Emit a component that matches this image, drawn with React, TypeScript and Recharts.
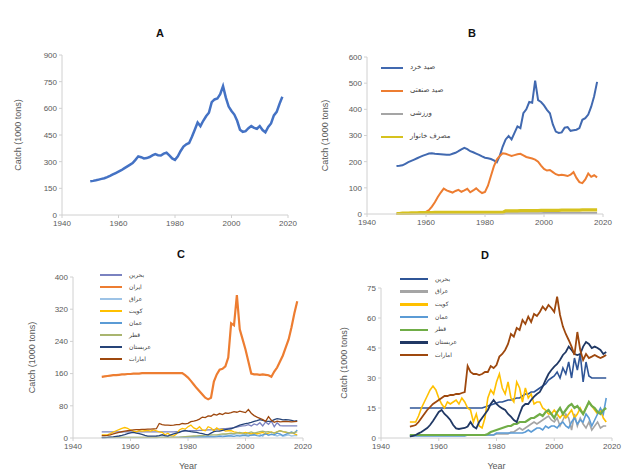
import React from 'react';
import { LineChart, Line, XAxis, YAxis, Label } from 'recharts';

const years = [
  1950, 1951, 1952, 1953, 1954, 1955, 1956, 1957, 1958, 1959,
  1960, 1961, 1962, 1963, 1964, 1965, 1966, 1967, 1968, 1969,
  1970, 1971, 1972, 1973, 1974, 1975, 1976, 1977, 1978, 1979,
  1980, 1981, 1982, 1983, 1984, 1985, 1986, 1987, 1988, 1989,
  1990, 1991, 1992, 1993, 1994, 1995, 1996, 1997, 1998, 1999,
  2000, 2001, 2002, 2003, 2004, 2005, 2006, 2007, 2008, 2009,
  2010, 2011, 2012, 2013, 2014, 2015, 2016, 2017, 2018,
];

const xTicks = [1940, 1960, 1980, 2000, 2020];

// Panel A: total catch
const totalCatch = [
  190, 192, 195, 199, 203, 207, 213, 220, 228, 236,
  244, 252, 262, 272, 282, 292, 310, 330, 325, 318,
  320, 326, 335, 342, 336, 335, 345, 350, 335, 318,
  310, 330, 360, 385, 398, 405, 440, 480, 520, 500,
  530, 555, 575, 635, 650, 655, 680, 725, 660, 610,
  585, 565, 530, 480, 468, 472, 488, 500, 490, 485,
  500, 478, 465, 495, 515, 560, 580, 625, 665,
];

// Panel B: by sector
const artisanal = [
  183, 184, 186, 192, 198, 203, 208, 213, 218, 223,
  227, 231, 232, 230, 229, 228, 227, 226, 226, 230,
  234, 240, 247, 253, 248, 240, 236, 231, 226, 220,
  215, 213, 210, 205, 198, 222, 258, 285, 298, 285,
  310, 335, 328, 385, 400, 428, 425, 510, 435, 428,
  415, 398, 385, 342, 315, 310, 312, 330, 332, 318,
  320, 322, 328, 360, 366, 380, 410, 450, 505,
];
const industrial = [
  0, 0, 0, 1, 1, 2, 3, 4, 5, 6,
  8, 15, 28, 45, 65, 82, 97, 90, 86, 82,
  88, 92, 85, 90, 96, 83, 90, 98, 88, 80,
  84, 108, 145, 182, 208, 222, 232, 230, 226, 222,
  225, 228, 230, 224, 218, 215, 212, 208, 200, 185,
  172, 166, 168, 160, 152, 148, 150, 148, 145, 150,
  160, 138, 122, 118, 132, 155, 142, 148, 140,
];
const recreational = [
  1, 1, 1, 1, 1, 1, 1, 1, 1, 1,
  1, 1, 1, 1, 1, 1, 1, 1, 1, 1,
  1, 1, 1, 1, 1, 1, 1, 1, 1, 1,
  1, 1, 1, 1, 1, 1, 1, 3, 3, 3,
  3, 3, 3, 3, 3, 3, 3, 3, 3, 3,
  4, 4, 4, 4, 4, 4, 4, 4, 4, 4,
  4, 4, 4, 4, 4, 4, 4, 4, 4,
];
const subsistence = [
  2, 2, 3, 3, 3, 4, 4, 4, 5, 5,
  5, 5, 5, 6, 6, 6, 6, 6, 6, 6,
  6, 6, 6, 6, 6, 6, 6, 6, 6, 6,
  6, 6, 6, 6, 6, 6, 6, 12, 12, 12,
  12, 12, 13, 13, 13, 13, 13, 13, 13, 14,
  14, 14, 14, 14, 14, 14, 15, 15, 15, 15,
  15, 15, 15, 16, 16, 16, 16, 16, 16,
];

// Panels C & D: by country
const bahrain = [
  15, 15, 15, 15, 15, 15, 15, 15, 15, 15,
  15, 15, 15, 15, 15, 15, 15, 15, 15, 15,
  15, 15, 15, 15, 15, 15, 15.5, 16, 16.5, 17,
  17.5, 18, 18, 18.5, 19, 19, 19.5, 20, 20, 21,
  22, 22, 23, 23, 24, 25, 26, 27, 29, 30,
  31, 33, 30, 35, 32, 38, 30, 40, 34, 42,
  28, 38, 31, 30, 30, 30, 30, 30, 30,
];
const iran = [
  152, 153, 154, 155, 156, 156, 157, 158, 158, 159,
  159, 160, 160, 160, 161, 161, 161, 161, 161, 161,
  161, 161, 161, 161, 161, 161, 161, 161, 161, 156,
  150, 142, 133, 124, 116, 108, 100, 96, 100, 140,
  158, 170, 172, 178, 200, 285, 280, 355, 270, 245,
  220, 190, 160, 158, 158, 157, 158, 157, 156, 152,
  165, 175, 190, 205, 225, 245, 275, 310, 340,
];
const iraq = [
  1.5, 1.5, 1.5, 1.5, 1.5, 1.5, 1.5, 1.5, 1.5, 1.5,
  1.5, 1.5, 1.5, 1.5, 1.5, 1.5, 1.5, 1.5, 1.5, 1.5,
  1.5, 1.5, 1.5, 1.5, 1.5, 1.5, 1.5, 1.5, 1.5, 1.5,
  2, 2, 2, 2, 2, 3, 3, 4, 5, 4,
  5, 6, 7, 8, 7, 8, 9, 10, 11, 9,
  8, 10, 6, 9, 12, 10, 4, 12, 6, 10,
  7, 5, 8, 4, 6, 8, 5, 6, 6,
];
const kuwait = [
  8, 8, 8, 11, 15, 18, 21, 24, 26, 24,
  20, 17, 15, 18, 17, 18, 19, 17, 20, 18,
  15, 14, 8, 12, 6, 5, 10, 20, 24, 22,
  28, 32, 25, 22, 28, 20, 18, 28, 25, 18,
  25, 20, 22, 17, 18, 18, 15, 14, 12, 12,
  14, 12, 10, 12, 10, 12, 14, 10, 12, 15,
  12, 15, 18, 16, 14, 12, 14, 10, 8,
];
const oman = [
  1, 1, 1, 1, 1, 1, 1, 1, 1, 1,
  1, 1, 1, 1, 1, 1, 1, 1, 1, 1,
  1.5, 1.5, 1.5, 1.5, 1.5, 1.5, 1.5, 1.5, 1.5, 1.5,
  2.5, 2.5, 2.5, 2.5, 2.5, 2.5, 2.5, 2.5, 2.5, 2.5,
  3, 4, 3, 4, 5, 5, 4, 6, 5, 6,
  6, 5, 7, 8, 6, 5, 8, 10, 7, 9,
  8, 12, 10, 6, 9, 12, 15, 12, 20,
];
const qatar = [
  1.5, 1.5, 1.5, 1.5, 1.5, 1.5, 1.5, 1.5, 1.5, 1.5,
  1.5, 1.5, 1.5, 1.5, 1.5, 1.5, 1.5, 1.5, 1.5, 1.5,
  1.5, 1.5, 1.5, 1.5, 1.5, 1.5, 1.5, 2, 3, 3.5,
  4, 4.5, 5, 5.5, 6, 6, 7, 7, 8, 8,
  8, 9, 10, 10, 11, 12, 11, 13, 14, 12,
  10, 13, 15, 12, 14, 16, 17, 15, 16, 14,
  12, 15, 18, 16, 15, 13, 12, 14, 15,
];
const saudi = [
  0.7, 1, 1.5, 2.3, 3, 4, 5, 6.5, 8.5, 10.7,
  13, 14, 12, 10.7, 9, 6.5, 4.8, 4.5, 4.8, 5,
  5.7, 8, 5.7, 4.8, 8, 10, 12, 14, 17, 19,
  17, 15.7, 14.8, 14, 12, 10.7, 9, 8, 12, 15.7,
  17, 17, 19, 20.7, 22, 23, 25.7, 29, 32, 34,
  35.7, 37, 39, 41.5, 43, 45.7, 44, 42, 41.5, 42,
  45.7, 48, 47, 45, 45.7, 45, 44, 42, 43,
];
const uae = [
  5.7, 6, 6.5, 8, 10, 12, 14, 15.5, 17, 18,
  19, 20, 21, 21, 21.5, 21.5, 22, 22, 22.5, 23,
  36, 33, 32, 32, 31.5, 32, 33, 33, 36, 35,
  36.5, 40.7, 42, 44, 47, 52, 50.7, 55, 54, 59,
  57, 60.7, 58, 62, 61, 63, 65.7, 64, 66.5, 65,
  63, 70.7, 61.5, 55.7, 52, 49, 45.7, 41.5, 53, 44,
  39, 42, 40, 40.7, 41.5, 40.7, 40, 40.7, 41.5,
];

const sectorNames = ['صید خرد', 'صید صنعتی', 'ورزشی', 'مصرف خانوار'];
const countryNamesC = ['بحرین', 'ایران', 'عراق', 'کویت', 'عمان', 'قطر', 'عربستان', 'امارات'];
const countryNamesD = ['بحرین', 'عراق', 'کویت', 'عمان', 'قطر', 'عربستان', 'امارات'];

const data = years.map((year, i) => ({
  year,
  total: totalCatch[i],
  artisanal: artisanal[i],
  industrial: industrial[i],
  recreational: recreational[i],
  subsistence: subsistence[i],
  bahrain: bahrain[i],
  iran: iran[i],
  iraq: iraq[i],
  kuwait: kuwait[i],
  oman: oman[i],
  qatar: qatar[i],
  saudi: saudi[i],
  uae: uae[i],
}));

type Series = { key: string; name: string; color: string; width: number };

const seriesA: Series[] = [{ key: 'total', name: 'total', color: '#4472c4', width: 2.5 }];
const seriesB: Series[] = [
  { key: 'artisanal', name: sectorNames[0], color: '#4169b0', width: 2 },
  { key: 'industrial', name: sectorNames[1], color: '#ed7d31', width: 2 },
  { key: 'recreational', name: sectorNames[2], color: '#a5a5a5', width: 2 },
  { key: 'subsistence', name: sectorNames[3], color: '#d6c21e', width: 3.2 },
];
const seriesC: Series[] = [
  { key: 'bahrain', name: countryNamesC[0], color: '#7a82c0', width: 1.3 },
  { key: 'iran', name: countryNamesC[1], color: '#ed7d31', width: 2.2 },
  { key: 'iraq', name: countryNamesC[2], color: '#9dc3e6', width: 1.3 },
  { key: 'kuwait', name: countryNamesC[3], color: '#ffc000', width: 1.3 },
  { key: 'oman', name: countryNamesC[4], color: '#5b9bd5', width: 1.3 },
  { key: 'qatar', name: countryNamesC[5], color: '#a9b56f', width: 1.3 },
  { key: 'saudi', name: countryNamesC[6], color: '#264478', width: 1.3 },
  { key: 'uae', name: countryNamesC[7], color: '#9e480e', width: 1.3 },
];
const seriesD: Series[] = [
  { key: 'bahrain', name: countryNamesD[0], color: '#2f5597', width: 1.6 },
  { key: 'iraq', name: countryNamesD[1], color: '#a5a5a5', width: 1.6 },
  { key: 'kuwait', name: countryNamesD[2], color: '#ffc000', width: 1.6 },
  { key: 'oman', name: countryNamesD[3], color: '#5b9bd5', width: 1.6 },
  { key: 'qatar', name: countryNamesD[4], color: '#70ad47', width: 2.2 },
  { key: 'saudi', name: countryNamesD[5], color: '#203864', width: 1.8 },
  { key: 'uae', name: countryNamesD[6], color: '#9e480e', width: 1.8 },
];

const tickStyle = { fontSize: 8, fill: '#595959', fontFamily: 'Liberation Sans, Arial, sans-serif' };
const axisColor = '#d0d0d0';

type PanelProps = {
  left: number; top: number; width: number; height: number;
  margin: { top: number; right: number; bottom: number; left: number };
  yWidth: number; yLabelOffset: number; xHeight: number;
  yDomain: [number, number]; yTicks: number[];
  series: Series[];
  showYear?: boolean;
};

function Panel(p: PanelProps) {
  return (
    <div style={{ position: 'absolute', left: p.left, top: p.top }}>
      <LineChart width={p.width} height={p.height} data={data} margin={p.margin}>
        <XAxis
          dataKey="year" type="number" domain={[1940, 2020]} ticks={xTicks}
          tick={tickStyle} stroke={axisColor} tickSize={3} height={p.xHeight}
          interval={0} allowDataOverflow
        >
          {p.showYear ? (
            <Label value="Year" position="insideBottom" offset={4}
              style={{ fontSize: 9, fill: '#595959', fontFamily: 'Liberation Sans, Arial, sans-serif' }} />
          ) : null}
        </XAxis>
        <YAxis
          type="number" domain={p.yDomain} ticks={p.yTicks} interval={0}
          tick={tickStyle} stroke={axisColor} tickSize={3} width={p.yWidth}
        >
          <Label value="Catch (1000 tons)" angle={-90} position="insideLeft" offset={p.yLabelOffset}
            style={{ textAnchor: 'middle', fontSize: 9, fill: '#595959', fontFamily: 'Liberation Sans, Arial, sans-serif' }} />
        </YAxis>
        {p.series.map((s) => (
          <Line key={s.key} dataKey={s.key} name={s.name} type="linear" stroke={s.color}
            strokeWidth={s.width} dot={false} isAnimationActive={false} />
        ))}
      </LineChart>
    </div>
  );
}

function LegendBox({ left, top, series, rowGap, lineW, fontSize, lineThick }: {
  left: number; top: number; series: Series[]; rowGap: number; lineW: number; fontSize: number; lineThick: number;
}) {
  return (
    <div style={{ position: 'absolute', left, top }}>
      {series.map((s, i) => (
        <div key={s.key} style={{ position: 'absolute', left: 0, top: i * rowGap, height: 0, whiteSpace: 'nowrap' }}>
          <div style={{ position: 'absolute', left: 0, top: -lineThick / 2, width: lineW, height: lineThick, background: s.color }} />
          <div style={{
            position: 'absolute', left: lineW + 7, top: -fontSize * 0.75, fontSize, lineHeight: `${fontSize * 1.4}px`,
            color: '#404040', fontFamily: 'DejaVu Sans, sans-serif',
          }}>{s.name}</div>
        </div>
      ))}
    </div>
  );
}

const titleStyle: React.CSSProperties = {
  position: 'absolute', fontSize: 11, fontWeight: 'bold', fontFamily: 'Liberation Sans, Arial, sans-serif',
  color: '#111', transform: 'translate(-50%, -50%)',
};

export default function App() {
  return (
    <div style={{ position: 'absolute', left: 0, top: 0, width: 625, height: 473, background: '#fff', overflow: 'hidden' }}>
      <div style={{ ...titleStyle, left: 160, top: 33 }}>A</div>
      <div style={{ ...titleStyle, left: 472, top: 33 }}>B</div>
      <div style={{ ...titleStyle, left: 181, top: 254 }}>C</div>
      <div style={{ ...titleStyle, left: 485, top: 255 }}>D</div>

      <Panel left={0} top={0} width={310} height={240}
        margin={{ top: 55, right: 22, bottom: 5, left: 4 }} yWidth={58} yLabelOffset={14} xHeight={20}
        yDomain={[0, 900]} yTicks={[0, 150, 300, 450, 600, 750, 900]} series={seriesA} />
      <Panel left={310} top={0} width={315} height={240}
        margin={{ top: 57, right: 22, bottom: 6, left: 4 }} yWidth={53} yLabelOffset={11} xHeight={20}
        yDomain={[0, 600]} yTicks={[0, 100, 200, 300, 400, 500, 600]} series={seriesB} />
      <Panel left={0} top={240} width={330} height={233}
        margin={{ top: 37, right: 27, bottom: 0, left: 4 }} yWidth={69} yLabelOffset={28} xHeight={35}
        yDomain={[0, 400]} yTicks={[0, 80, 160, 240, 320, 400]} series={seriesC} showYear />
      <Panel left={310} top={240} width={315} height={233}
        margin={{ top: 48, right: 13, bottom: 0, left: 4 }} yWidth={67} yLabelOffset={30} xHeight={35}
        yDomain={[0, 75]} yTicks={[0, 15, 30, 45, 60, 75]} series={seriesD} showYear />

      <LegendBox left={381} top={68} series={seriesB} rowGap={23} lineW={22} fontSize={7} lineThick={2.5} />
      <LegendBox left={100} top={275} series={seriesC} rowGap={12} lineW={22} fontSize={6} lineThick={2} />
      <LegendBox left={400} top={279} series={seriesD} rowGap={12.7} lineW={28} fontSize={6} lineThick={2.5} />
    </div>
  );
}
